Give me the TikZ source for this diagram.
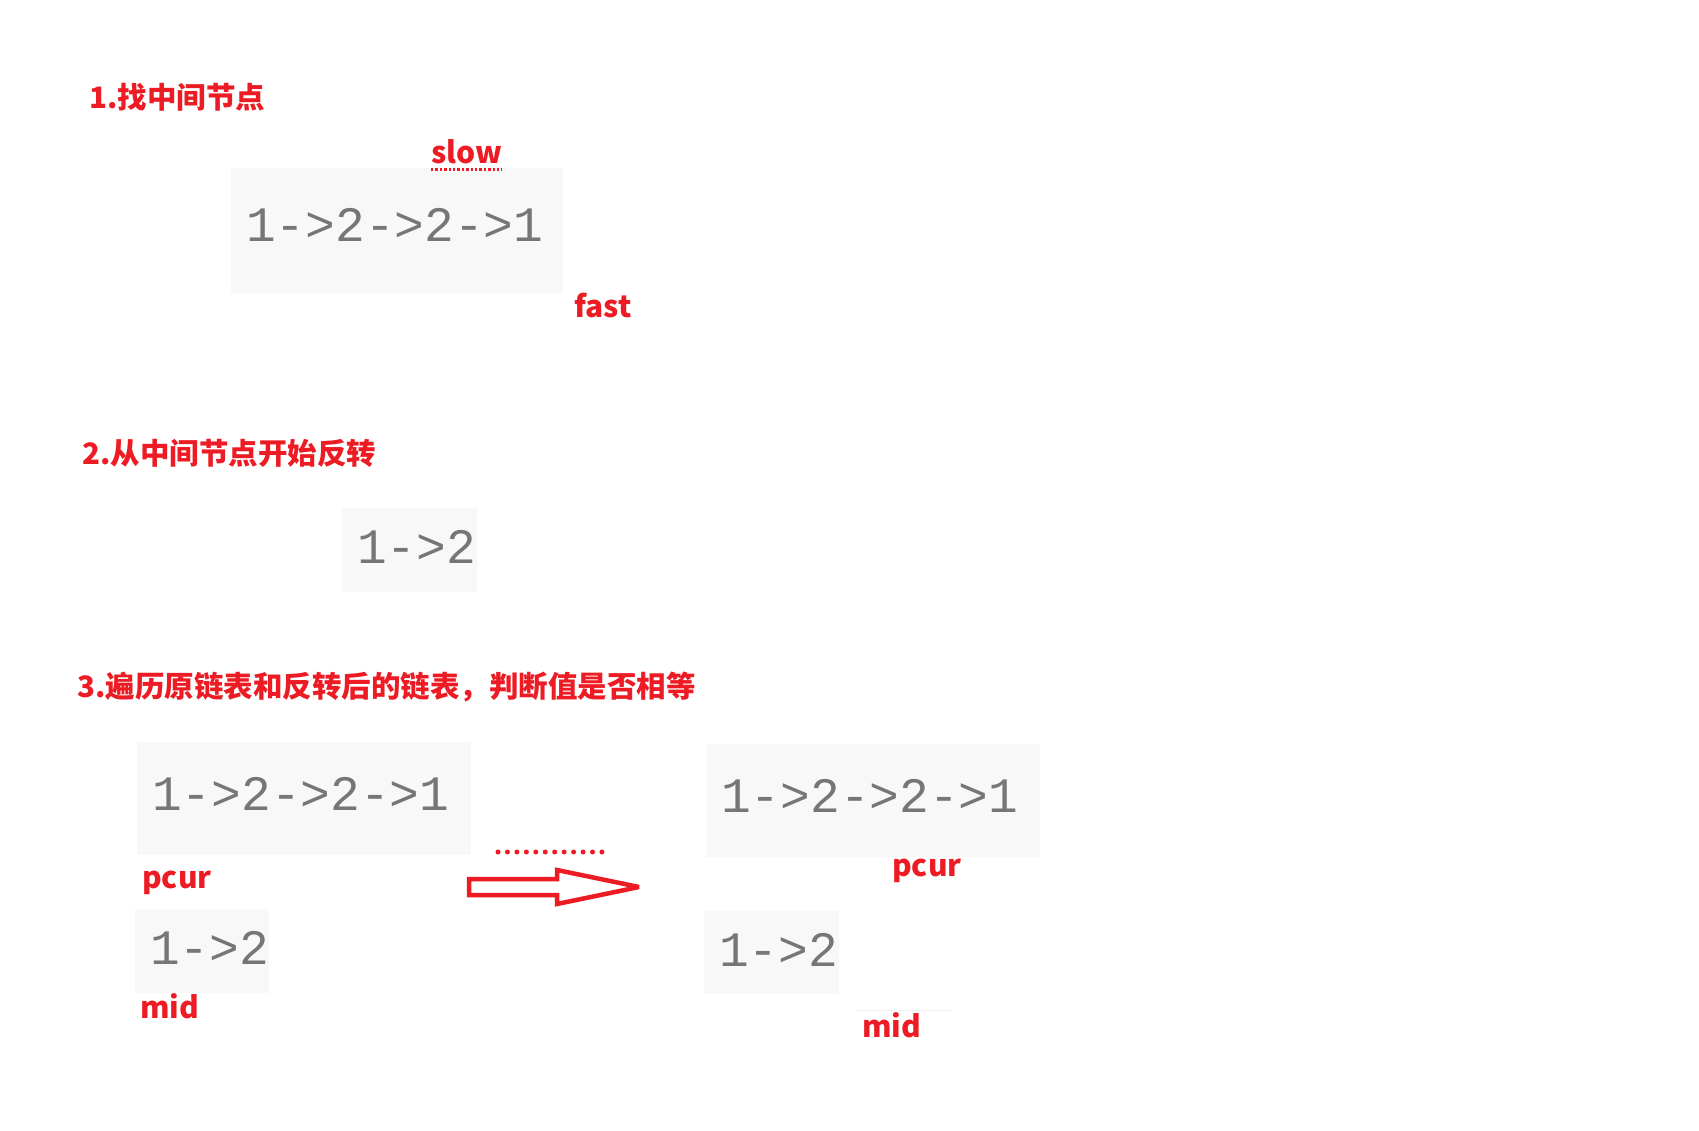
\documentclass[tikz,border=0pt]{standalone}
\usepackage{fontspec}
\newfontfamily\cjk{Noto Sans CJK SC}
\newfontfamily\codefont{Liberation Mono}
\definecolor{markred}{HTML}{ED1C24}
\definecolor{boxgray}{HTML}{F8F8F8}
\definecolor{codegray}{HTML}{767676}
\begin{document}
\begin{tikzpicture}[x=1pt,y=-1pt]
\tikzstyle{heading}=[anchor=base west, inner sep=0, text=markred, font=\cjk\bfseries\fontsize{29.5}{30}\selectfont]
\tikzstyle{tag}=[anchor=base west, inner sep=0, text=markred, font=\cjk\bfseries\fontsize{30}{31}\selectfont]
\tikzstyle{listbox}=[anchor=north west, inner sep=0, fill=boxgray]
\tikzstyle{listtext}=[anchor=west, inner sep=0, text=codegray, font=\codefont\fontsize{49.5}{50}\selectfont]
\tikzstyle{reddot}=[circle, minimum size=5pt, inner sep=0, fill=markred]
\fill[white](0,0) rectangle (1699,1131);
\useasboundingbox (0,0) rectangle (1699,1131);
\node[heading] (t1) at (89,109) {1.找中间节点};
\node[listbox, minimum width=332pt, minimum height=125pt] (l1) at (231,168) {};
\node[listtext, xshift=15pt, yshift=6pt] (l1t) at (l1.west) {1->2->2->1};
\node[tag] (slow) at (431,164) {slow};
\draw[markred, line width=2.4pt, dash pattern=on 2.4pt off 2pt] ([yshift=-5pt]slow.south west)--([yshift=-5pt]slow.south east);
\node[tag] (fast) at (574,318) {fast};
\node[heading] (t2) at (82,464) {2.从中间节点开始反转};
\node[listbox, minimum width=135pt, minimum height=84pt] (r1) at (342,508) {};
\node[listtext, xshift=15pt, yshift=3pt] (r1t) at (r1.west) {1->2};
\node[heading] (t3) at (77,697) {3.遍历原链表和反转后的链表，判断值是否相等};
\node[listbox, minimum width=334pt, minimum height=113pt] (a1) at (137,742) {};
\node[listtext, xshift=15pt, yshift=5pt] (a1t) at (a1.west) {1->2->2->1};
\node[tag] (pcurA) at (142,888) {pcur};
\node[listbox, minimum width=134pt, minimum height=84pt] (a2) at (135,909) {};
\node[listtext, xshift=15pt, yshift=3pt] (a2t) at (a2.west) {1->2};
\node[tag] (midA) at (140,1018) {mid};
\foreach \i in {0,...,11} \node[reddot] (d\i) at ({498+9.45*\i},852) {};
\draw[markred, line width=4.5pt, miter limit=2, fill=white](469,879)--(557,879)--(557,870)--(639,887)--(557,904)--(557,895)--(469,895)--cycle;
\node[listbox, minimum width=334pt, minimum height=113pt] (b1) at (706,744) {};
\node[listtext, xshift=15pt, yshift=5pt] (b1t) at (b1.west) {1->2->2->1};
\node[tag] (pcurB) at (892,876) {pcur};
\node[listbox, minimum width=135pt, minimum height=83pt] (b2) at (704,911) {};
\node[listtext, xshift=15pt, yshift=3pt] (b2t) at (b2.west) {1->2};
\draw[black!6, line width=1pt](856,1010)--(953,1010);
\node[tag] (midB) at (862,1037) {mid};
\end{tikzpicture}
\end{document}
